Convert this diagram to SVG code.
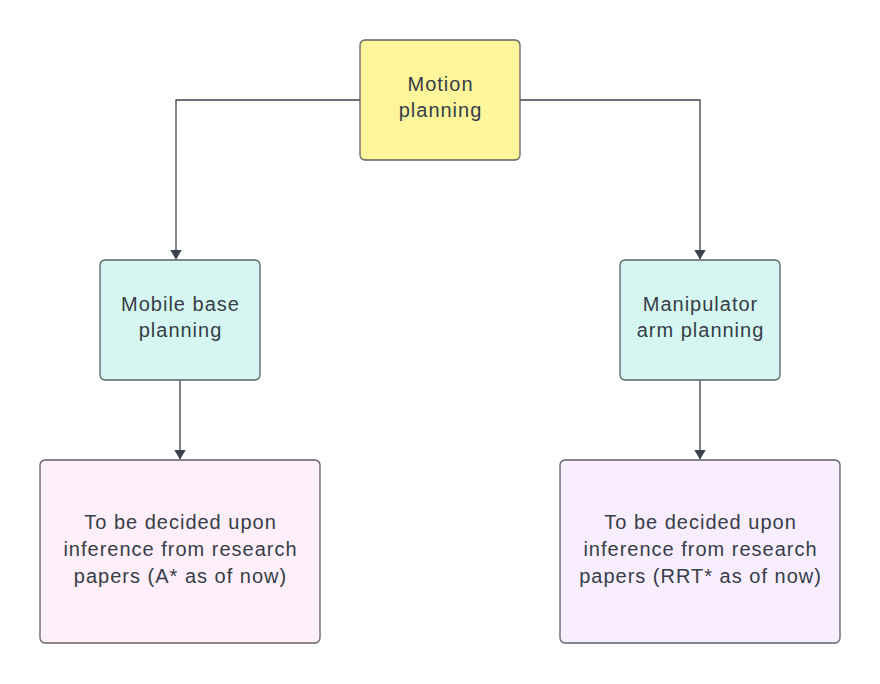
<svg xmlns="http://www.w3.org/2000/svg" width="880" height="684" viewBox="0 0 880 684">
<defs>
<style>
.box{stroke:#5e6066;stroke-width:1.3}
.t{font-family:"Liberation Sans",Arial,sans-serif;font-size:20px;letter-spacing:1px;fill:#363d47;text-anchor:middle}
.c{fill:none;stroke:#3b424c;stroke-width:1.3}
</style>
<marker id="ah" viewBox="0 0 10 12" refX="9.5" refY="6" markerWidth="10" markerHeight="12" markerUnits="userSpaceOnUse" orient="auto">
<path d="M0,0 L10,6 L0,12 Z" fill="#3b424c"/>
</marker>
</defs>
<rect width="880" height="684" fill="#ffffff"/>
<g id="connectors">
<path class="c" d="M360,100 H176 V259" marker-end="url(#ah)"/>
<path class="c" d="M520,100 H700 V259" marker-end="url(#ah)"/>
<path class="c" d="M180,380 V459" marker-end="url(#ah)"/>
<path class="c" d="M700,380 V459" marker-end="url(#ah)"/>
</g>
<g id="motion">
<rect class="box" x="360" y="40" width="160" height="120" rx="5" fill="#fff59b"/>
<text class="t" x="440.5" y="91">Motion</text>
<text class="t" x="440.5" y="117">planning</text>
</g>
<g id="mobile">
<rect class="box" x="100" y="260" width="160" height="120" rx="5" fill="#d6f7f1"/>
<text class="t" x="180.5" y="311">Mobile base</text>
<text class="t" x="180.5" y="337">planning</text>
</g>
<g id="manipulator">
<rect class="box" x="620" y="260" width="160" height="120" rx="5" fill="#d6f7f1"/>
<text class="t" x="700.5" y="311">Manipulator</text>
<text class="t" x="700.5" y="337">arm planning</text>
</g>
<g id="astar">
<rect class="box" x="40" y="460" width="280" height="183" rx="5" fill="#ffeffa"/>
<text class="t" x="180.5" y="529">To be decided upon</text>
<text class="t" x="180.5" y="556">inference from research</text>
<text class="t" x="180.5" y="583">papers (A* as of now)</text>
</g>
<g id="rrtstar">
<rect class="box" x="560" y="460" width="280" height="183" rx="5" fill="#f8eeff"/>
<text class="t" x="700.5" y="529">To be decided upon</text>
<text class="t" x="700.5" y="556">inference from research</text>
<text class="t" x="700.5" y="583">papers (RRT* as of now)</text>
</g>
</svg>
